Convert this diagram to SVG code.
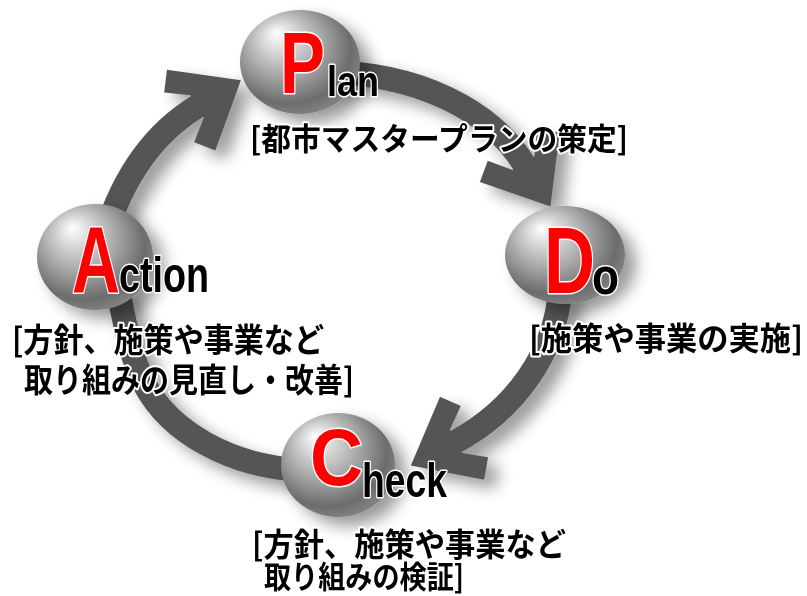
<svg xmlns="http://www.w3.org/2000/svg" width="807" height="596" viewBox="0 0 807 596">
  <defs>
    <filter id="soft-shadow" x="-30%" y="-30%" width="160%" height="160%">
      <feGaussianBlur in="SourceAlpha" stdDeviation="8"/>
      <feOffset dx="11" dy="9" result="blur"/>
      <feComponentTransfer><feFuncA type="linear" slope="0.4"/></feComponentTransfer>
      <feMerge><feMergeNode/><feMergeNode in="SourceGraphic"/></feMerge>
    </filter>
    <radialGradient id="ball" cx="0.42" cy="0.4" r="0.62" fx="0.3" fy="0.22">
      <stop offset="0" stop-color="#ffffff"/>
      <stop offset="0.18" stop-color="#e0e0e0"/>
      <stop offset="0.55" stop-color="#a2a2a2"/>
      <stop offset="0.85" stop-color="#6c6c6c"/>
      <stop offset="1" stop-color="#828282"/>
    </radialGradient>
    <!-- arrowhead, pointing along +x, base centred on the origin -->
    <polygon id="head" points="50,0 -8,47 -22,29 -1,13 -1,-13 -22,-29 -8,-47"/>
  </defs>
  <style>
    .shaft { fill: none; stroke: #555555; stroke-width: 24; }
    .tip { fill: #555555; }
    .big { font-family: "Liberation Sans", Arial, sans-serif; font-weight: bold; fill: #ff0000; stroke: #ffffff; stroke-width: 3; paint-order: stroke; stroke-linejoin: round; }
    .small { font-family: "Liberation Sans", Arial, sans-serif; font-weight: bold; fill: #000000; stroke: #ffffff; stroke-width: 3; paint-order: stroke; stroke-linejoin: round; }
    .label { font-family: "Noto Sans CJK JP", "Noto Sans", sans-serif; font-weight: bold; fill: #000000; stroke: #ffffff; stroke-width: 4; paint-order: stroke; stroke-linejoin: round; }
  </style>

  <rect width="807" height="596" fill="#ffffff"/>

  <!-- cycle ring -->
  <g id="connectors" filter="url(#soft-shadow)">
    <path class="shaft" d="M 105 235 C 122 180, 150 135, 198 106"/>
    <use href="#head" class="tip" transform="translate(198,106) rotate(-31)"/>
    <path class="shaft" d="M 320 72 C 420 72, 492 112, 524 164"/>
    <use href="#head" class="tip" transform="translate(524,164) rotate(58)"/>
    <path class="shaft" d="M 560 290 C 556 352, 515 410, 455 442"/>
    <use href="#head" class="tip" transform="translate(455,442) rotate(152)"/>
    <path class="shaft" d="M 300 470 C 230 466, 170 432, 145 385 C 132 360, 126 330, 118 290"/>
  </g>

  <g id="plan">
    <ellipse cx="300" cy="62" rx="60" ry="52" fill="url(#ball)" filter="url(#soft-shadow)"/>
    <text class="big" x="280" y="93" font-size="88" textLength="45" lengthAdjust="spacingAndGlyphs">P</text>
    <text class="small" x="327" y="96" font-size="43" textLength="52" lengthAdjust="spacingAndGlyphs">lan</text>
    <text class="label" x="250" y="150" font-size="31" textLength="378" lengthAdjust="spacingAndGlyphs">[都市マスタープランの策定]</text>
  </g>

  <g id="do">
    <ellipse cx="565" cy="255" rx="60" ry="49" fill="url(#ball)" filter="url(#soft-shadow)"/>
    <text class="big" x="544" y="293" font-size="95" textLength="51" lengthAdjust="spacingAndGlyphs">D</text>
    <text class="small" x="592" y="294" font-size="52" textLength="27" lengthAdjust="spacingAndGlyphs">o</text>
    <text class="label" x="529" y="350" font-size="32" textLength="274" lengthAdjust="spacingAndGlyphs">[施策や事業の実施]</text>
  </g>

  <g id="check">
    <ellipse cx="338" cy="465" rx="57" ry="52" fill="url(#ball)" filter="url(#soft-shadow)"/>
    <text class="big" x="310" y="485" font-size="80" textLength="53" lengthAdjust="spacingAndGlyphs">C</text>
    <text class="small" x="362" y="497" font-size="49" textLength="85" lengthAdjust="spacingAndGlyphs">heck</text>
    <text class="label" x="252" y="556" font-size="32" textLength="314" lengthAdjust="spacingAndGlyphs">[方針、施策や事業など</text>
    <text class="label" x="264" y="588" font-size="31" textLength="200" lengthAdjust="spacingAndGlyphs">取り組みの検証]</text>
  </g>

  <g id="action">
    <ellipse cx="95" cy="257" rx="58" ry="53" fill="url(#ball)" filter="url(#soft-shadow)"/>
    <text class="big" x="72" y="293" font-size="95" textLength="48" lengthAdjust="spacingAndGlyphs">A</text>
    <text class="small" x="119" y="292" font-size="50" textLength="90" lengthAdjust="spacingAndGlyphs">ction</text>
    <text class="label" x="12" y="352" font-size="33" textLength="312" lengthAdjust="spacingAndGlyphs">[方針、施策や事業など</text>
    <text class="label" x="24" y="392" font-size="33" textLength="330" lengthAdjust="spacingAndGlyphs">取り組みの見直し・改善]</text>
  </g>
</svg>
